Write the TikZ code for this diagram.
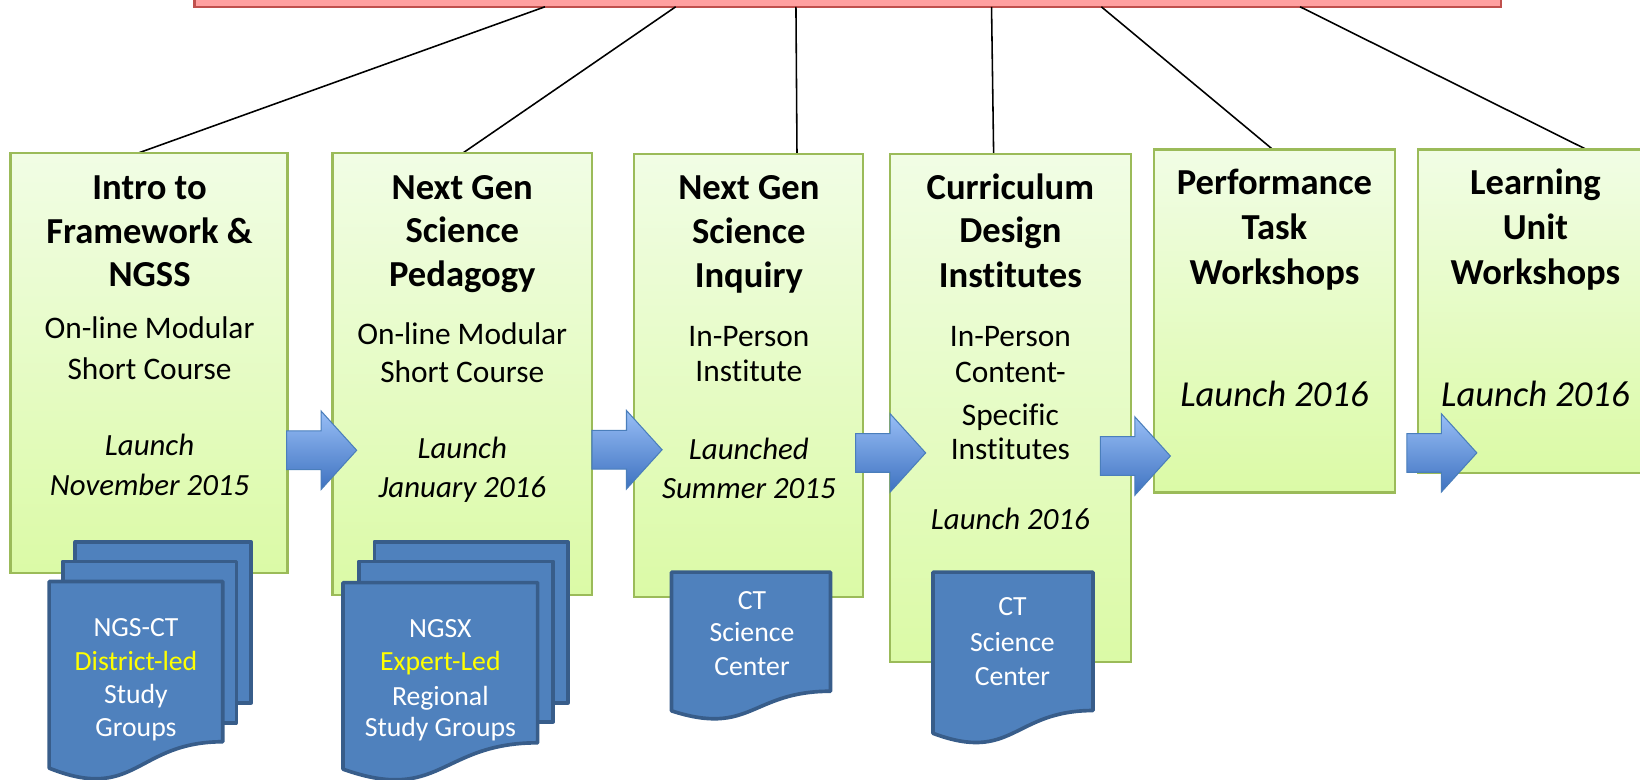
\documentclass[tikz,border=0pt]{standalone}
\usepackage{fontspec}
\setmainfont{Carlito}[Ligatures=NoCommon]
\definecolor{gtop}{RGB}{241,253,229}
\definecolor{gbot}{RGB}{219,250,166}
\definecolor{gline}{RGB}{155,187,89}
\definecolor{pinkfill}{RGB}{255,160,160}
\definecolor{pinkline}{RGB}{192,80,77}
\definecolor{docfill}{RGB}{79,129,189}
\definecolor{docline}{RGB}{56,93,138}
\definecolor{atop}{RGB}{152,190,246}
\definecolor{abot}{RGB}{62,114,192}
\definecolor{aline}{RGB}{74,126,187}
\definecolor{ylw}{RGB}{255,255,0}
\newcommand\blockarrow[2]{%
  \draw[barrow] (#1,#2-18.5) -- (#1+33,#2-18.5) -- (#1+33,#2-37.5) -- (#1+67,#2)
    -- (#1+33,#2+37.5) -- (#1+33,#2+18.5) -- (#1,#2+18.5) -- cycle;}
\newcommand\docpage[4]{%
  \draw[docst] (#1,#2) -- (#1+#3,#2) -- (#1+#3,#2+0.802*#4)
    .. controls (#1+0.5*#3,#2+0.802*#4) and (#1+0.5*#3,#2+1.1075*#4) .. (#1,#2+0.934*#4) -- cycle;}
\begin{document}
\begin{tikzpicture}[x=1pt,y=-1pt,
  gbox/.style={draw=gline, line width=2.2pt, top color=gtop, bottom color=gbot, inner sep=0pt},
  barst/.style={draw=pinkline, line width=2.2pt, fill=pinkfill, inner sep=0pt},
  conn/.style={draw=black, line width=1.5pt},
  barrow/.style={draw=aline, line width=1pt, top color=atop, bottom color=abot, line join=miter},
  docst/.style={draw=docline, line width=3.5pt, fill=docfill, line join=round},
  ttl/.style={font=\bfseries\fontsize{35}{42}\selectfont, anchor=base, inner sep=0pt},
  bdy/.style={font=\fontsize{30}{36}\selectfont, anchor=base, inner sep=0pt},
  itl/.style={font=\itshape\fontsize{29.5}{36}\selectfont, anchor=base, inner sep=0pt},
  bigit/.style={font=\itshape\fontsize{35}{42}\selectfont, anchor=base, inner sep=0pt},
  doctxt/.style={font=\fontsize{26.5}{32}\selectfont, text=white, anchor=base, inner sep=0pt}]
\useasboundingbox (0,0) rectangle (1568,745);
\clip (0,0) rectangle (1568,745);

% top bar
\node[barst, minimum width=1249pt, minimum height=41pt] (bar) at (810.5,-14) {};

% connector points
\coordinate (s1) at (521,6.5);  \coordinate (e1) at (133,146);
\coordinate (s2) at (646,6.5);  \coordinate (e2) at (443,146);
\coordinate (s3) at (761,6.5);  \coordinate (e3) at (762,147);
\coordinate (s4) at (948,6.5);  \coordinate (e4) at (950,147);
\coordinate (s5) at (1053,6.5); \coordinate (e5) at (1217,143);
\coordinate (s6) at (1243,6.5); \coordinate (e6) at (1517,143);
\foreach \i in {1,...,6} {\draw[conn] (s\i) -- (e\i);}

% green boxes
\node[gbox, minimum width=265pt, minimum height=402pt] (b1) at (142.5,347) {};
\node[gbox, minimum width=248pt, minimum height=423pt] (b2) at (442,357.5) {};
\node[gbox, minimum width=219pt, minimum height=424pt] (b3) at (715.5,359) {};
\node[gbox, minimum width=230pt, minimum height=486pt] (b4) at (966,390) {};
\node[gbox, minimum width=231pt, minimum height=328pt] (b5) at (1218.5,307) {};
\node[gbox, minimum width=224pt, minimum height=309pt] (b6) at (1468,297.5) {};

% box 1 text
\node[ttl] (t11) at (143,191) {Intro to};
\node[ttl] (t12) at (143,233) {Framework \&};
\node[ttl] (t13) at (143,274) {NGSS};
\node[bdy] (p11) at (143,323.5) {On-line Modular};
\node[bdy] (p12) at (143,362.5) {Short Course};
\node[itl] (d11) at (143,435.5) {Launch};
\node[itl] (d12) at (143,473.5) {November 2015};

% box 2 text
\node[ttl] (t21) at (442,191) {Next Gen};
\node[ttl] (t22) at (442,232) {Science};
\node[ttl] (t23) at (442,274) {Pedagogy};
\node[bdy] (p21) at (442,329.5) {On-line Modular};
\node[bdy] (p22) at (442,365.5) {Short Course};
\node[itl] (d21) at (442,438.5) {Launch};
\node[itl] (d22) at (442,475.5) {January 2016};

% box 3 text
\node[ttl] (t31) at (716,191) {Next Gen};
\node[ttl] (t32) at (716,233) {Science};
\node[ttl] (t33) at (716,275) {Inquiry};
\node[bdy] (p31) at (716,331.5) {In-Person};
\node[bdy] (p32) at (716,364.5) {Institute};
\node[itl] (d31) at (716,439.5) {Launched};
\node[itl] (d32) at (716,476.5) {Summer 2015};

% box 4 text
\node[ttl] (t41) at (966,191) {Curriculum};
\node[ttl] (t42) at (966,232) {Design};
\node[ttl] (t43) at (966,275) {Institutes};
\node[bdy] (p41) at (966,331.5) {In-Person};
\node[bdy] (p42) at (966,365.5) {Content-};
\node[bdy] (p43) at (966,406.5) {Specific};
\node[bdy] (p44) at (966,439.5) {Institutes};
\node[itl] (d41) at (966,506.5) {Launch 2016};

% box 5 text
\node[ttl] (t51) at (1218.5,186) {Performance};
\node[ttl] (t52) at (1218.5,229) {Task};
\node[ttl] (t53) at (1218.5,272) {Workshops};
\node[bigit] (d51) at (1218.5,389) {Launch 2016};

% box 6 text
\node[ttl] (t61) at (1468,186) {Learning};
\node[ttl] (t62) at (1468,229) {Unit};
\node[ttl] (t63) at (1468,272) {Workshops};
\node[bigit] (d61) at (1468,389) {Launch 2016};

% block arrows
\blockarrow{274}{430.5}
\blockarrow{566}{430}
\blockarrow{818}{433}
\blockarrow{1052}{436}
\blockarrow{1345}{433}

% documents
\draw[docst] (72,518) rectangle (240,672);
\draw[docst] (60,537) rectangle (226,691);
\docpage{47}{556}{166}{191}
\draw[docst] (358,518) rectangle (543,672);
\draw[docst] (343,537) rectangle (529,690);
\docpage{328}{557}{186}{191}
\docpage{642}{547}{152}{142}
\docpage{892}{547}{153}{165}

% document text
\node[doctxt] (g11) at (130,608.5) {NGS-CT};
\node[doctxt, text=ylw] (g12) at (130,641.5) {District-led};
\node[doctxt] (g13) at (130,672.5) {Study};
\node[doctxt] (g14) at (130,704.5) {Groups};
\node[doctxt] (g21) at (421,609.5) {NGSX};
\node[doctxt, text=ylw] (g22) at (421,641.5) {Expert-Led};
\node[doctxt] (g23) at (421,674.5) {Regional};
\node[doctxt] (g24) at (421,704.5) {Study Groups};
\node[doctxt] (g31) at (719,582.5) {CT};
\node[doctxt] (g32) at (719,613.5) {Science};
\node[doctxt] (g33) at (719,645.5) {Center};
\node[doctxt] (g41) at (968,588.5) {CT};
\node[doctxt] (g42) at (968,622.5) {Science};
\node[doctxt] (g43) at (968,655.5) {Center};
\end{tikzpicture}
\end{document}
